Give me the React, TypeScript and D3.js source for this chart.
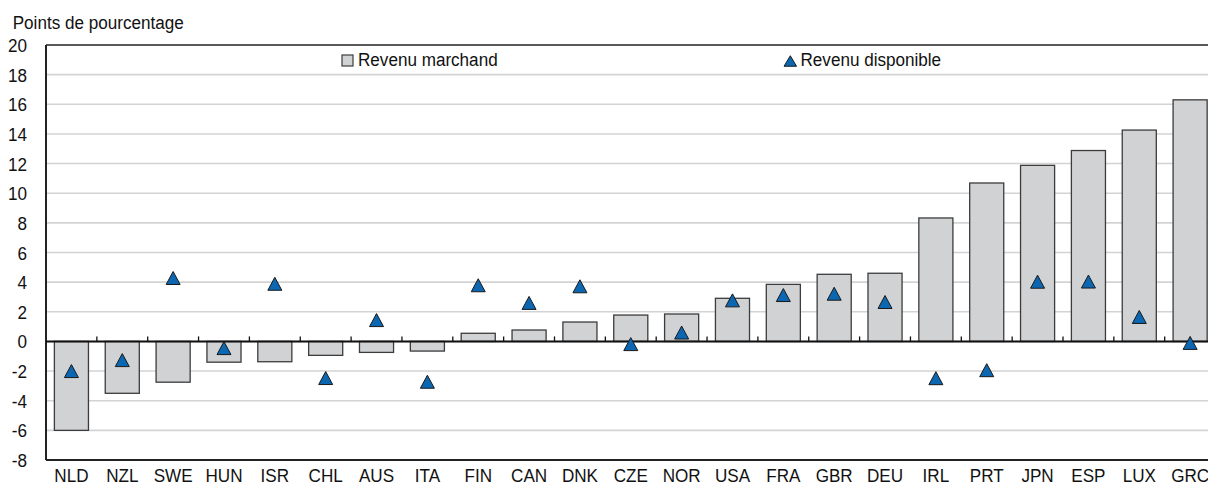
import React from "react";
import * as d3 from "d3";

const categories = ["NLD","NZL","SWE","HUN","ISR","CHL","AUS","ITA","FIN","CAN","DNK","CZE","NOR","USA","FRA","GBR","DEU","IRL","PRT","JPN","ESP","LUX","GRC"];
const revenuMarchand = [-6.0,-3.5,-2.75,-1.4,-1.37,-0.94,-0.74,-0.65,0.55,0.77,1.31,1.78,1.85,2.91,3.85,4.53,4.6,8.33,10.69,11.88,12.88,14.26,16.3];
const revenuDisponible = [-2.0,-1.26,4.28,-0.45,3.89,-2.47,1.44,-2.72,3.79,2.6,3.72,-0.18,0.6,2.77,3.13,3.22,2.66,-2.48,-1.94,4.03,4.04,1.65,-0.1];
const yTicks = [-8,-6,-4,-2,0,2,4,6,8,10,12,14,16,18,20];
const seriesNames = ["Revenu marchand","Revenu disponible"];
const yTitle = "Points de pourcentage";

const W = 1208, H = 486;
const left = 46, top = 45, bottom = 460;
const step = 50.85;
const FONT = "'Liberation Sans', Arial, Helvetica, sans-serif";
const FS = 19;
const SX = 0.9;
const BLUE = "#0b67b2";

function Txt({x, y, anchor = "start", children}: {x:number;y:number;anchor?:string;children:any}) {
  return (
    <text transform={`translate(${x},${y}) scale(${SX},1)`} textAnchor={anchor}
      fontFamily={FONT} fontSize={FS} fill="#111">{children}</text>
  );
}

function tri(cx:number, cy:number, w=14, h=13) {
  return `M${cx - w/2},${cy + h/2}L${cx + w/2},${cy + h/2}L${cx},${cy - h/2}Z`;
}

export default function App() {
  const x = d3.scaleBand<string>().domain(categories)
    .range([left, left + step * categories.length])
    .paddingInner(0.33).paddingOuter(0.165);
  const y = d3.scaleLinear().domain([-8, 20]).range([bottom, top]);
  const bw = x.bandwidth();
  const y0 = y(0);
  const boundaries = categories.slice(0, -1).map((c, i) => (x(c)! + bw + x(categories[i+1])!) / 2);

  return (
    <svg width={W} height={H} style={{position: "absolute", left: 0, top: 0, background: "#fff"}}>
      <Txt x={12.7} y={29}>{yTitle}</Txt>
      {yTicks.filter(t => t > -8 && t < 20).map(t => (
        <line key={"g"+t} x1={left} x2={W} y1={y(t)} y2={y(t)} stroke="#d3d3d3" strokeWidth={1.6}/>
      ))}
      {yTicks.map(t => (
        <Txt key={"yl"+t} x={27} y={y(t) + 7} anchor="end">{String(t)}</Txt>
      ))}
      {categories.map((c, i) => {
        const v = revenuMarchand[i];
        return <rect key={"b"+c} x={x(c)!} y={Math.min(y(v), y0)} width={bw}
          height={Math.abs(y(v) - y0)} fill="#d1d2d4" stroke="#3c3c3c" strokeWidth={1.3}/>;
      })}
      <line x1={left} x2={W} y1={top} y2={top} stroke="#222" strokeWidth={1.6}/>
      <line x1={left} x2={W} y1={bottom} y2={bottom} stroke="#222" strokeWidth={1.8}/>
      <line x1={left} x2={left} y1={top} y2={bottom} stroke="#222" strokeWidth={2}/>
      <line x1={left} x2={W} y1={y0} y2={y0} stroke="#111" strokeWidth={2}/>
      {boundaries.map((b, i) => (
        <line key={"t"+i} x1={b} x2={b} y1={y0} y2={y0 - 5} stroke="#111" strokeWidth={1.3}/>
      ))}
      {categories.map((c, i) => (
        <path key={"p"+c} d={tri(x(c)! + bw/2, y(revenuDisponible[i]))} fill={BLUE} stroke="#1a1a1a" strokeWidth={1}/>
      ))}
      {categories.map(c => (
        <Txt key={"xl"+c} x={x(c)! + bw/2} y={481.5} anchor="middle">{c}</Txt>
      ))}
      <rect x={342} y={55} width={11} height={11} fill="#d1d2d4" stroke="#3c3c3c" strokeWidth={1.2}/>
      <Txt x={358} y={66}>{seriesNames[0]}</Txt>
      <path d={tri(790.3, 61, 12.5, 10.5)} fill={BLUE} stroke="#1a1a1a" strokeWidth={1}/>
      <Txt x={800.5} y={66}>{seriesNames[1]}</Txt>
    </svg>
  );
}
